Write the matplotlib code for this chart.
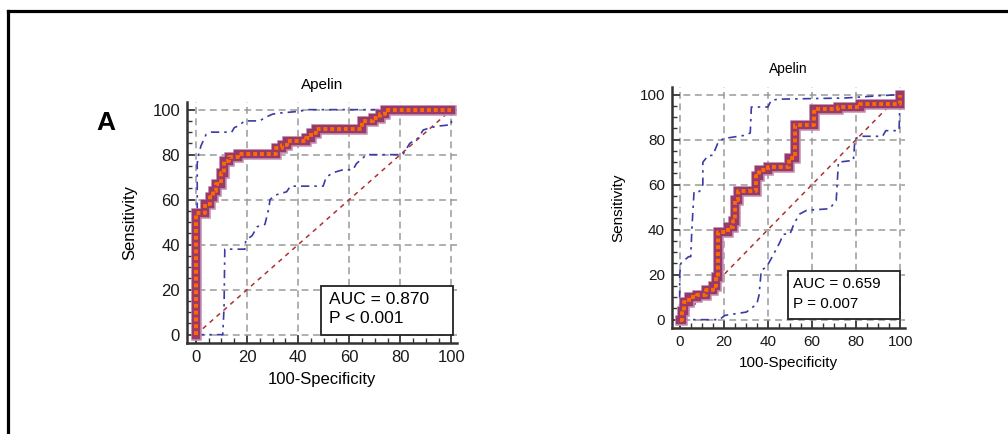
import matplotlib
matplotlib.use("Agg")
import matplotlib.pyplot as plt
from matplotlib.patches import Rectangle
from matplotlib.lines import Line2D

plt.rcParams['font.family'] = ['Liberation Sans', 'DejaVu Sans']

# ---------------- data ----------------
title = "Apelin"
xlabel = "100-Specificity"
ylabel = "Sensitivity"
ticks = [0, 20, 40, 60, 80, 100]
tick_labels = ["0", "20", "40", "60", "80", "100"]

# Panel A
a_roc_x = [0, 0, 3.5, 3.5, 5.5, 5.5, 6.5, 6.5, 8, 8, 10, 10, 11, 11, 13, 13, 16.5, 16.5, 31.5, 31.5,
           33.5, 33.5, 35.5, 35.5, 43, 43, 45, 45, 47, 47, 65, 65, 69.5, 69.5, 72, 72, 74, 74, 100]
a_roc_y = [0, 54, 54, 58, 58, 61, 61, 64, 64, 67, 67, 72, 72, 77, 77, 79, 79, 80.5, 80.5, 83,
           83, 84.5, 84.5, 86, 86, 87.5, 87.5, 89.5, 89.5, 91.5, 91.5, 95, 95, 96.5, 96.5, 98, 98, 100, 100]
a_up_x = [0, 0.5, 0.5, 1, 2, 4, 6, 14, 15, 17, 19, 25, 27, 30, 33, 40, 44, 100]
a_up_y = [0, 0, 76, 80, 84, 89, 90, 90, 92, 93, 95, 95, 96.5, 98, 98.5, 99.2, 100, 100]
a_lo_x = [0, 10.5, 11, 11.3, 19.2, 19.5, 22, 24, 27, 28.5, 29, 31, 35.5, 37, 49.8, 51, 53.7, 57.6,
          61.5, 62.8, 66.8, 81, 83.7, 87, 89, 94, 100, 100]
a_lo_y = [0, 0, 12, 38, 38, 42, 44, 48, 49, 56, 60, 62, 63.5, 66, 66, 70, 72, 73.3,
          73.3, 76, 80, 80, 85, 87.4, 91, 92.6, 93.3, 100]
a_text = ["AUC = 0.870", "P < 0.001"]

# Panel B
b_roc_x = [0, 1, 1, 2, 2, 4, 4, 8, 8, 12, 12, 15, 15, 16.5, 16.5, 17.5, 17.5, 22, 22, 24, 24, 25, 25,
           26.5, 26.5, 34.5, 34.5, 36, 36, 40, 40, 49.5, 49.5, 52.5, 52.5, 61, 61, 72, 72, 82, 82, 98, 100, 100]
b_roc_y = [0, 0, 4, 4, 8, 8, 10, 10, 11, 11, 13, 13, 15, 15, 19, 19, 39, 39, 41, 41, 44, 44, 53,
           53, 57, 57, 64, 64, 66.5, 66.5, 68, 68, 72, 72, 86.5, 86.5, 93.5, 93.5, 94.5, 94.5, 96, 96, 96, 100]
b_up_x = [0, 0, 0.5, 4, 5, 5.5, 6.5, 9, 10.5, 10.5, 13, 15, 17.5, 20, 30, 32, 32.5, 40, 41.5, 45, 75, 90, 100]
b_up_y = [0, 20, 25, 28, 28, 40, 57, 57, 60, 70, 73, 73, 79, 80.5, 82, 83, 94.5, 94.5, 97.5, 98, 98.5, 99.5, 100]
b_lo_x = [0, 18, 20.5, 25.8, 30.3, 35, 36, 37, 39.4, 42, 45.5, 47, 50, 52, 54.5, 57.6, 68, 71, 72,
          78.8, 79.5, 82, 92, 93.5, 99.5, 100]
b_lo_y = [0, 0, 1.9, 2.7, 3.4, 7, 11, 22, 23.4, 28, 34.5, 38, 38, 43, 47, 48.6, 49.3, 53, 70,
          70.8, 80.4, 81.5, 81.5, 84, 84, 100]
b_text = ["AUC = 0.659", "P = 0.007"]

# ---------------- figure ----------------
W, H = 1008, 434
fig = plt.figure(figsize=(W / 100, H / 100), dpi=100)

# outer frame (top and left edges visible)
fig.add_artist(Line2D([8 / W, 1.05], [1 - 11 / H] * 2, lw=2.3, color='black'))
fig.add_artist(Line2D([8 / W] * 2, [-0.05, 1 - 11 / H], lw=2.3, color='black'))

fig.text(96 / W, 1 - 130 / H, "A", fontsize=19, fontweight='bold', va='baseline', ha='left')


def panel(rect, rx, ry, ux, uy, lx, ly, texts, fs, box, txt_y, txt_x, tfs, tpad, ylpad):
    ax = fig.add_axes(rect)
    ax.set_xlim(-3.5, 102.2)
    ax.set_ylim(-3.7, 103.4)
    for s in ['top', 'right']:
        ax.spines[s].set_visible(False)
    for s in ['left', 'bottom']:
        ax.spines[s].set_linewidth(1.8)
        ax.spines[s].set_color('#333333')
    ax.set_xticks(ticks)
    ax.set_xticklabels(tick_labels)
    ax.set_yticks(ticks)
    ax.set_yticklabels(tick_labels)
    ax.set_xticks(range(0, 101, 5), minor=True)
    ax.set_yticks(range(0, 101, 5), minor=True)
    ax.tick_params(which='major', direction='in', length=6, width=1.2, color='#333333',
                   labelsize=fs, pad=5, labelcolor='#1a1a1a')
    ax.tick_params(which='minor', direction='in', length=3.5, width=1.0, color='#333333')
    ax.grid(True, which='major', color='#9a9a9a', lw=1.1, ls=(0, (4.5, 3)))
    ax.set_axisbelow(True)

    # diagonal
    ax.plot([0, 100], [0, 100], color='#b03030', lw=1.1, ls=(0, (3, 3)), zorder=3)
    # confidence bands
    ax.plot(ux, uy, color='#3a3aa8', lw=1.2, ls=(0, (5, 3, 1.5, 3)), zorder=3)
    ax.plot(lx, ly, color='#3a3aa8', lw=1.2, ls=(0, (5, 3, 1.5, 3)), zorder=3)
    # ROC curve
    ax.plot(rx, ry, color='#c98fb0', lw=7.6, solid_joinstyle='miter', zorder=4)
    ax.plot(rx, ry, color='#963a6c', lw=6.0, solid_joinstyle='miter', zorder=5)
    ax.plot(rx, ry, color='#ff6a00', lw=2.8, ls=(0, (1, 0.75)), dash_capstyle='butt', zorder=6)

    # AUC box
    ax.add_patch(Rectangle((box[0], box[1]), box[2], box[3], facecolor='white',
                           edgecolor='#222222', lw=1.3, zorder=7))
    ax.text(txt_x, txt_y[0], texts[0], fontsize=tfs, va='center', ha='left', zorder=8)
    ax.text(txt_x, txt_y[1], texts[1], fontsize=tfs, va='center', ha='left', zorder=8)

    ax.set_title(title, fontsize=fs - 1, pad=tpad)
    ax.set_xlabel(xlabel, fontsize=fs, labelpad=5)
    ax.set_ylabel(ylabel, fontsize=fs, labelpad=ylpad)
    return ax


panel([187 / W, 1 - 343 / H, 270 / W, 241 / H], a_roc_x, a_roc_y, a_up_x, a_up_y, a_lo_x, a_lo_y,
      a_text, 12, (49, 0, 51.5, 21.5), (15.5, 7.0), 52.0, 12.5, 9, 11)

panel([672 / W, 1 - 328 / H, 233 / W, 241 / H], b_roc_x, b_roc_y, b_up_x, b_up_y, b_lo_x, b_lo_y,
      b_text, 11, (49.2, 0.3, 50.8, 21.5), (15.9, 7.0), 51.4, 11, 10, 10)

fig.savefig("out.png", dpi=100)
